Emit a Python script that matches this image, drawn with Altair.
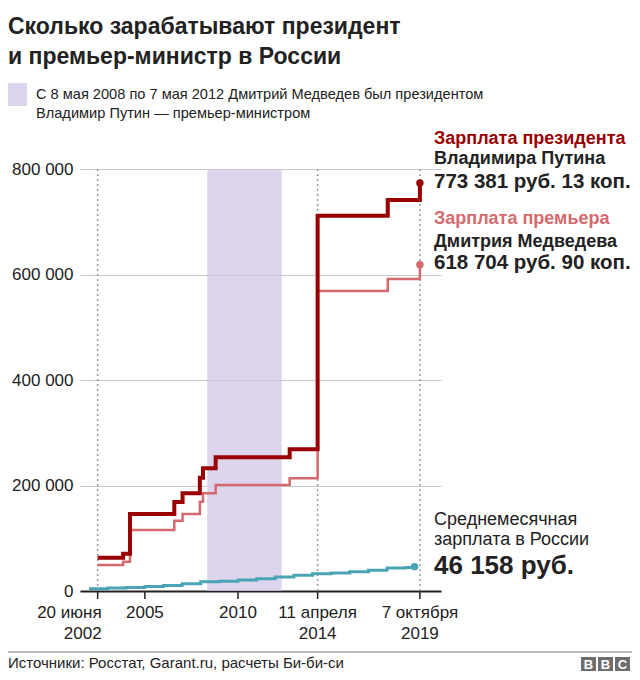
import altair as alt
import pandas as pd

# ---------------- data ----------------
step_dates = ["2002-06-20", "2003-11-01", "2004-03-15", "2006-08-01", "2007-01-10",
              "2007-12-15", "2008-02-15", "2008-10-20", "2012-10-10", "2014-04-11",
              "2018-01-15", "2019-10-07"]
president_salary = [63000, 70700, 146000, 168700, 185200, 214800, 232600, 253400,
                    268600, 711500, 741200, 773381.13]
premier_salary = [49300, 55500, 115600, 133300, 146000, 169300, 185200, 201000,
                  213600, 568700, 591500, 618704.90]

wage_dates = ["2002-01-01", "2003-01-01", "2004-01-01", "2005-01-01", "2006-01-01",
              "2007-01-01", "2008-01-01", "2009-01-01", "2010-01-01", "2011-01-01",
              "2012-01-01", "2013-01-01", "2014-01-01", "2015-01-01", "2016-01-01",
              "2017-01-01", "2018-01-01", "2019-01-01", "2019-06-25"]
avg_wage = [4400, 5500, 6700, 8500, 10600, 13600, 17300, 18600, 21000, 23400,
            26600, 29800, 32500, 34000, 36700, 39200, 43700, 44500, 46158]

band_start = ["2008-05-08"]
band_end = ["2012-05-07"]

marker_dates = ["2002-06-20", "2014-04-11", "2019-10-07"]
tick_dates = ["2002-06-20", "2005-01-01", "2010-01-01", "2014-04-11", "2019-10-07"]
tick_line1 = ["20 июня", "2005", "2010", "11 апреля", "7 октября"]
tick_line2 = ["2002", "", "", "2014", "2019"]
y_ticks = [0, 200000, 400000, 600000, 800000]

FONT = "Liberation Sans"
DARK = "#222222"
C_PRES = "#990000"
C_PREM = "#d5696d"
C_WAGE = "#4ba4b6"

pres_df = pd.DataFrame({"date": step_dates, "value": president_salary})
prem_df = pd.DataFrame({"date": step_dates, "value": premier_salary})
wage_df = pd.DataFrame({"date": wage_dates, "value": avg_wage})
band_df = pd.DataFrame({"start": band_start, "end": band_end})
marker_df = pd.DataFrame({"date": marker_dates})
tick_df = pd.DataFrame({"date": tick_dates, "l1": tick_line1, "l2": tick_line2})
first_tick = tick_df.head(1)
other_ticks = tick_df.iloc[1:]

xscale = alt.Scale(domain=[pd.Timestamp("2001-07-09").value // 10**6,
                           pd.Timestamp("2020-11-24").value // 10**6])
yscale = alt.Scale(domain=[0, 800000], nice=False)

XAXIS = alt.Axis(title=None, labels=False, ticks=False, grid=False,
                 domain=True, domainColor=DARK, domainWidth=2)
YAXIS = alt.Axis(title=None, values=y_ticks, grid=True, gridColor="#c8c8c8",
                 gridWidth=1, ticks=False, domain=False, labelFont=FONT,
                 labelFontSize=17, labelColor=DARK, labelPadding=7,
                 labelExpr="replace(format(datum.value, ','), ',', ' ')")


def xenc(field="date"):
    return alt.X(f"{field}:T", scale=xscale, axis=XAXIS)


def yenc():
    return alt.Y("value:Q", scale=yscale, axis=YAXIS)


base_band = alt.Chart(band_df).mark_rect(color="#cfc3e4", opacity=0.7).encode(
    x=xenc("start"), x2="end:T", y=alt.value(0), y2=alt.value(422))

markers = alt.Chart(marker_df).mark_rule(color="#9a9a9a", strokeDash=[2, 3],
                                         strokeWidth=1.5).encode(
    x=xenc(), y=alt.value(0), y2=alt.value(422))

ticks = alt.Chart(tick_df).mark_rule(color=DARK, strokeWidth=1.5).encode(
    x=xenc(), y=alt.value(422), y2=alt.value(430))


def tick_labels(df, align, dx):
    l1 = alt.Chart(df).mark_text(font=FONT, fontSize=17, color=DARK, align=align,
                                 dx=dx, baseline="alphabetic").encode(
        x=xenc(), y=alt.value(449), text="l1:N")
    l2 = alt.Chart(df).mark_text(font=FONT, fontSize=17, color=DARK, align=align,
                                 dx=dx, baseline="alphabetic").encode(
        x=xenc(), y=alt.value(470), text="l2:N")
    return [l1, l2]


def series(df, color, width):
    line = alt.Chart(df).mark_line(interpolate="step-after", color=color,
                                   strokeWidth=width).encode(x=xenc(), y=yenc())
    dot = alt.Chart(df.tail(1)).mark_point(filled=True, color=color, size=55,
                                            opacity=1).encode(x=xenc(), y=yenc())
    return [line, dot]


def label(text, x, y, size, color=DARK, weight="normal", align="left"):
    return alt.Chart(alt.Data(values=[{}])).mark_text(
        text=text, align=align, baseline="alphabetic", fontSize=size,
        fontWeight=weight, color=color, font=FONT).encode(
        x=alt.value(x), y=alt.value(y))


def box(x1, x2, y1, y2, color):
    return alt.Chart(alt.Data(values=[{}])).mark_rect(color=color).encode(
        x=alt.value(x1), x2=alt.value(x2), y=alt.value(y1), y2=alt.value(y2))


decor = [
    box(-72, -53, -86, -63, "#ddd5ec"),
    box(501, 516, 488, 502, "#6e6e6e"),
    box(518, 533, 488, 502, "#6e6e6e"),
    box(535, 550, 488, 502, "#6e6e6e"),
    alt.Chart(alt.Data(values=[{}])).mark_rule(color="#777777", strokeWidth=1).encode(
        x=alt.value(-72), x2=alt.value(552), y=alt.value(483)),
]

texts = [
    label("Сколько зарабатывают президент", -72, -135, 23, weight="bold"),
    label("и премьер-министр в России", -72, -105, 23, weight="bold"),
    label("С 8 мая 2008 по 7 мая 2012 Дмитрий Медведев был президентом", -44, -70, 14.6),
    label("Владимир Путин — премьер-министром", -44, -51, 14.6),
    label("Зарплата президента", 354, -25, 18, color=C_PRES, weight="bold"),
    label("Владимира Путина", 354, -5, 18, weight="bold"),
    label("773 381 руб. 13 коп.", 354, 19, 20.5, weight="bold"),
    label("Зарплата премьера", 354, 55, 18, color=C_PREM, weight="bold"),
    label("Дмитрия Медведева", 354, 78, 18, weight="bold"),
    label("618 704 руб. 90 коп.", 354, 100, 20.5, weight="bold"),
    label("Среднемесячная", 354, 356, 18),
    label("зарплата в России", 354, 376, 18),
    label("46 158 руб.", 354, 405, 26, weight="bold"),
    label("Источники: Росстат, Garant.ru, расчеты Би-би-си", -72, 499, 15),
    label("B", 508.5, 500, 13, color="white", weight="bold", align="center"),
    label("B", 525.5, 500, 13, color="white", weight="bold", align="center"),
    label("C", 542.5, 500, 13, color="white", weight="bold", align="center"),
]

chart = alt.layer(
    base_band, markers, ticks,
    *tick_labels(first_tick, "right", 4), *tick_labels(other_ticks, "center", 0),
    *series(wage_df, C_WAGE, 3), *series(prem_df, C_PREM, 2.5),
    *series(pres_df, C_PRES, 4), *decor, *texts
).properties(
    width=361, height=422,
    autosize=alt.AutoSizeParams(type="none"),
    padding={"left": 72, "top": 161, "right": 191, "bottom": 83},
).configure(background="white").configure_view(stroke=None)

chart.save("out.html", embed_options={"renderer": "svg", "actions": False})
